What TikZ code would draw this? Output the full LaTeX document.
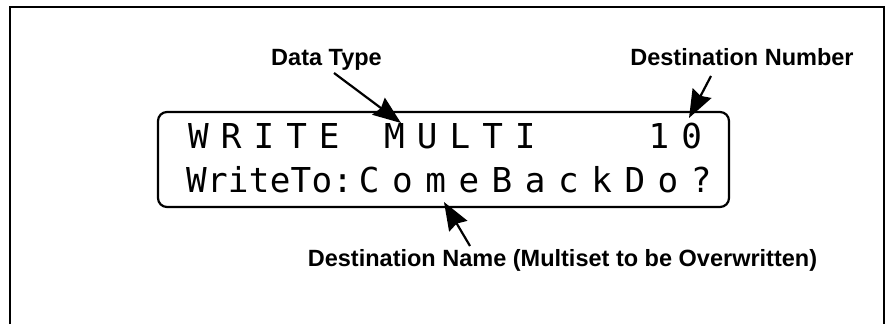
\documentclass[tikz,border=0pt]{standalone}
\usepackage{fontspec}
\setmainfont{Liberation Sans}
\newfontfamily\lcdA[LetterSpace=35.1]{DejaVu Sans Mono}
\newfontfamily\lcdB[LetterSpace=0.7]{DejaVu Sans Mono}
\newfontfamily\lcdC[LetterSpace=36.6]{DejaVu Sans Mono}
\usetikzlibrary{arrows.meta}
\tikzset{
  frame/.style={line width=2pt},
  lcdbox/.style={draw, line width=2.2pt, rounded corners=9pt, inner sep=0pt},
  lbl/.style={font=\fontsize{23.5}{26}\selectfont\bfseries, inner sep=0pt, anchor=base},
  lcdtxt/.style={inner sep=0pt, anchor=base west},
  ptr/.style={line width=2.2pt, -{Stealth[length=28pt,width=21pt,inset=3pt]}}
}
\begin{document}
\begin{tikzpicture}[x=1pt,y=-1pt]
\useasboundingbox (0,0) rectangle (888,324);
\fill[white] (0,0) rectangle (888,324);
% outer frame (open at the bottom)
\draw[frame] (10,324) -- (10,7) -- (884,7) -- (884,324);
% LCD display
\node[lcdbox, minimum width=571pt, minimum height=95pt] (lcd) at (443.5,159.5) {};
\node[lcdtxt, font=\lcdA\fontsize{34.3}{36}\selectfont] (r1a) at (188,148) {WRITE};
\node[lcdtxt, font=\lcdA\fontsize{34.3}{36}\selectfont] (r1b) at (384,148) {MULTI};
\node[lcdtxt, font=\lcdA\fontsize{34.3}{36}\selectfont] (r1c) at (648.5,148) {10};
\node[lcdtxt, font=\lcdB\fontsize{34.3}{36}\selectfont] (r2a) at (186,192) {WriteTo:};
\node[lcdtxt, font=\lcdC\fontsize{34.3}{36}\selectfont] (r2b) at (358.7,192) {ComeBackDo?};
% labels
\node[lbl] (dtype) at (326.5,65) {Data Type};
\node[lbl] (dnum) at (742,65) {Destination Number};
\node[lbl] (dname) at (562.5,266) {Destination Name (Multiset to be Overwritten)};
% arrow end points
\coordinate (t1) at (334,73);
\coordinate (h1) at (401,123);
\coordinate (t2) at (711,76);
\coordinate (h2) at (689,118);
\coordinate (t3) at (470,246);
\coordinate (h3) at (444,202);
\draw[ptr] (t1) -- (h1);
\draw[ptr] (t2) -- (h2);
\draw[ptr] (t3) -- (h3);
\end{tikzpicture}
\end{document}
